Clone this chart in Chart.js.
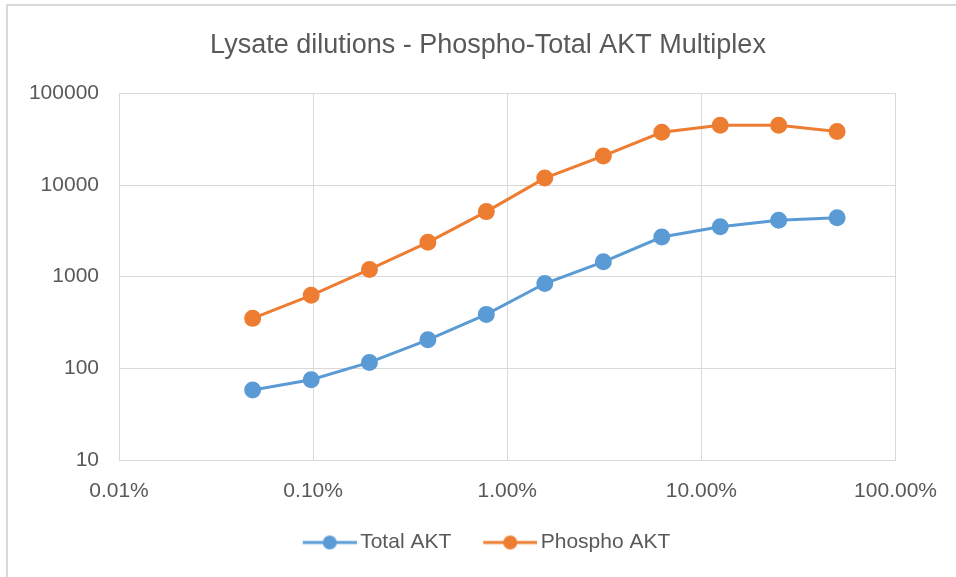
<!DOCTYPE html>
<html lang="en">
<head>
  <meta charset="UTF-8">
  <title>Lysate dilutions - Phospho-Total AKT Multiplex</title>
  <script src="https://cdn.jsdelivr.net/npm/chart.js"></script>
  <style>
    html, body { margin:0; padding:0; background:#fff; }
    #wrap { position:relative; width:956px; height:577px; }
    #frame { position:absolute; left:6px; top:4px; right:0; bottom:0; border-left:2px solid #d9d9d9; border-top:2px solid #d9d9d9; pointer-events:none; }
  </style>
</head>
<body>
  <div id="wrap"><canvas id="chart" width="956" height="577"></canvas><div id="frame"></div></div>
  <script>
    // dilution (fraction of lysate) and measured signal
    const dilutions = [0.000488, 0.000977, 0.00195, 0.0039, 0.0078, 0.0156, 0.03125, 0.0625, 0.125, 0.25, 0.5];
    const totalAKT = [58, 75, 116, 205, 388, 842, 1452, 2710, 3516, 4130, 4400];
    const phosphoAKT = [351, 627, 1200, 2371, 5130, 11910, 20770, 37670, 44950, 44950, 38370];
    const xTicks = [0.0001, 0.001, 0.01, 0.1, 1];
    const yTicks = [10, 100, 1000, 10000, 100000];

    const font = "'Liberation Sans', Arial, sans-serif";
    const grey = '#595959';

    // legend marker: short line with a dot (left part transparent so text sits close)
    function marker(color) {
      const c = document.createElement('canvas');
      c.width = 58; c.height = 16;
      const g = c.getContext('2d');
      g.strokeStyle = color; g.lineWidth = 3;
      g.beginPath(); g.moveTo(4, 8); g.lineTo(58, 8); g.stroke();
      g.fillStyle = color;
      g.beginPath(); g.arc(31, 8, 7, 0, Math.PI * 2); g.fill();
      return c;
    }

    // title and legend are centred a bit right of the plot in the original
    const shiftBoxes = {
      id: 'shiftBoxes',
      afterLayout(chart) {
        [chart.titleBlock, chart.legend].forEach(b => { if (b) { b.left = 79; b.width = b.right - b.left; } });
      }
    };

    const pts = arr => dilutions.map((d, i) => ({ x: d, y: arr[i] }));

    new Chart(document.getElementById('chart'), {
      type: 'scatter',
      data: {
        datasets: [
          { label: 'Total AKT', data: pts(totalAKT), showLine: true, borderColor: '#5b9bd5', backgroundColor: '#5b9bd5',
            borderWidth: 3, pointRadius: 7, pointHoverRadius: 7, pointStyle: 'circle' },
          { label: 'Phospho AKT', data: pts(phosphoAKT), showLine: true, borderColor: '#ed7d31', backgroundColor: '#ed7d31',
            borderWidth: 3, pointRadius: 7, pointHoverRadius: 7, pointStyle: 'circle' }
        ]
      },
      plugins: [shiftBoxes],
      options: {
        responsive: false,
        animation: false,
        layout: { padding: { top: 20, right: 59, bottom: 14, left: 0 } },
        plugins: {
          title: { display: true, text: 'Lysate dilutions - Phospho-Total AKT Multiplex', color: grey,
            font: { family: font, size: 27, weight: 'normal' }, padding: { top: 9, bottom: 32 } },
          legend: {
            position: 'bottom',
            labels: {
              color: grey, font: { family: font, size: 21 }, usePointStyle: true, pointStyleWidth: 44, padding: 35,
              generateLabels: chart => chart.data.datasets.map((ds, i) => ({
                text: ds.label, fontColor: grey, pointStyle: marker(ds.borderColor), datasetIndex: i,
                hidden: false, lineWidth: 0, strokeStyle: 'transparent', fillStyle: ds.borderColor
              }))
            }
          },
          tooltip: { enabled: false }
        },
        scales: {
          x: {
            type: 'logarithmic', min: 0.0001, max: 1,
            afterBuildTicks: s => { s.ticks = xTicks.map(v => ({ value: v })); },
            afterFit: s => { s.height = 37; },
            ticks: { color: grey, font: { family: font, size: 21 }, padding: 19,
              callback: v => (v * 100).toFixed(2) + '%' },
            grid: { color: '#d9d9d9', lineWidth: 1, drawTicks: false },
            border: { color: '#d9d9d9' }
          },
          y: {
            type: 'logarithmic', min: 10, max: 100000,
            afterBuildTicks: s => { s.ticks = yTicks.map(v => ({ value: v })); },
            afterFit: s => { s.width = 119; },
            ticks: { color: grey, font: { family: font, size: 21 }, padding: 20,
              callback: v => String(v) },
            grid: { color: '#d9d9d9', lineWidth: 1, drawTicks: false },
            border: { color: '#d9d9d9' }
          }
        }
      }
    });
  </script>
</body>
</html>
